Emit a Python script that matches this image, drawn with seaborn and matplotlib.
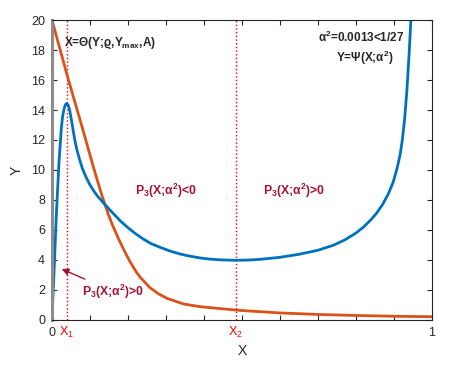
import numpy as np
import pandas as pd
import seaborn as sns
import matplotlib
matplotlib.use('Agg')
import matplotlib.pyplot as plt
import matplotlib.transforms as mtransforms

# blue curve  Y = Psi(X; alpha^2)
psi_x = [0.0, 0.002, 0.005, 0.0114, 0.0184, 0.0246, 0.028, 0.032, 0.035, 0.0386,
         0.042, 0.046, 0.05, 0.055, 0.06, 0.066, 0.072, 0.08, 0.09, 0.1,
         0.11, 0.12, 0.134, 0.15, 0.165, 0.18, 0.2, 0.22, 0.24, 0.26,
         0.284, 0.31, 0.337, 0.36, 0.389, 0.415, 0.442, 0.483, 0.52, 0.55,
         0.6, 0.65, 0.7, 0.74, 0.77, 0.8, 0.82, 0.84, 0.855, 0.87,
         0.885, 0.898, 0.908, 0.916, 0.922, 0.928, 0.934, 0.94, 0.946]
psi_y = [0.0, 1.3, 3.0, 7.0, 10.55, 12.8, 13.6, 14.1, 14.35, 14.44,
         14.35, 14.05, 13.5, 12.75, 12.0, 11.3, 10.75, 10.1, 9.5, 9.0,
         8.6, 8.25, 7.85, 7.4, 7.0, 6.6, 6.15, 5.75, 5.4, 5.1,
         4.85, 4.6, 4.4, 4.27, 4.14, 4.06, 4.01, 3.98, 4.0, 4.05,
         4.18, 4.38, 4.65, 4.98, 5.33, 5.8, 6.2, 6.7, 7.15, 7.7,
         8.4, 9.2, 10.1, 11.0, 12.0, 13.4, 15.3, 17.8, 20.8]

# orange curve  X = Theta(Y; rho, Ymax, A)
theta_x = [0.0, 0.04, 0.08, 0.11, 0.12, 0.13, 0.14, 0.15, 0.16, 0.175,
           0.19, 0.205, 0.22, 0.232, 0.258, 0.28, 0.302, 0.346, 0.389, 0.45,
           0.5, 0.6, 0.7, 0.8, 0.9, 1.0]
theta_y = [20.0, 16.3, 12.8, 10.1, 9.25, 8.42, 7.64, 6.93, 6.28, 5.42,
           4.63, 3.9, 3.27, 2.85, 2.15, 1.75, 1.45, 1.07, 0.89, 0.74,
           0.63, 0.47, 0.37, 0.3, 0.25, 0.22]

x1_pos = 0.0386
x2_pos = 0.483
x_ticks = [0, 0.1, 0.2, 0.3, 0.4, 0.5, 0.6, 0.7, 0.8, 0.9, 1.0]
x_ticklabels = ['0', '', '', '', '', '', '', '', '', '', '1']
y_ticks = [0, 2, 4, 6, 8, 10, 12, 14, 16, 18, 20]

sns.set_theme(style='ticks')
plt.rcParams['font.family'] = ['Liberation Sans', 'DejaVu Sans']
plt.rcParams['mathtext.fontset'] = 'custom'
plt.rcParams['mathtext.rm'] = 'Liberation Sans'
plt.rcParams['mathtext.it'] = 'Liberation Sans:italic'
plt.rcParams['mathtext.bf'] = 'Liberation Sans:bold'
plt.rcParams['mathtext.default'] = 'regular'

blue = '#0072BD'
orange = '#D95319'
wine = '#A2142F'

fig = plt.figure(figsize=(4.53, 3.65), dpi=100)
ax = fig.add_axes([0.1148, 0.1233, 0.8388, 0.8219])

ax.axvline(x1_pos, ymin=0, ymax=1, color='red', ls=':', lw=1)
ax.axvline(x2_pos, ymin=0, ymax=1, color='red', ls=':', lw=1)

sns.lineplot(x=theta_x, y=theta_y, color=orange, lw=2, sort=False, estimator=None, ax=ax)
sns.lineplot(x=psi_x, y=psi_y, color=blue, lw=2, sort=False, estimator=None, ax=ax)

ax.set_xlim(0, 1)
ax.set_ylim(0, 20)
ax.set_xticks(x_ticks)
ax.set_xticklabels(x_ticklabels)
ax.set_yticks(y_ticks)
ax.tick_params(direction='in', top=True, right=True, labelsize=9, length=3.5, width=0.8, pad=5)
for s in ['top', 'right', 'bottom']:
    ax.spines[s].set_linewidth(0.8)
ax.spines['left'].set_color('#8c8c8c')
ax.spines['left'].set_linewidth(2.2)
ax.set_xlabel('X', fontsize=10, labelpad=4)
ax.set_ylabel('Y', fontsize=10, labelpad=5)

trans = mtransforms.blended_transform_factory(ax.transData, ax.transAxes)
ax.text(x1_pos, -0.015, 'X$_1$', color='red', fontsize=9, ha='center', va='top', transform=trans)
ax.text(x2_pos, -0.015, 'X$_2$', color='red', fontsize=9, ha='center', va='top', transform=trans)

ax.text(0.032, 18.45, 'X=Θ(Y;ϱ,Y$_{max}$,A)', fontsize=8.5, fontweight='bold', ha='left', va='center')
ax.text(0.928, 18.85, 'α$^2$=0.0013<1/27', fontsize=8.5, fontweight='bold', ha='right', va='center')
ax.text(0.824, 17.5, 'Y=Ψ(X;α$^2$)', fontsize=8.5, fontweight='bold', ha='center', va='center')
ax.text(0.218, 8.6, 'P$_3$(X;α$^2$)<0', fontsize=8.8, fontweight='bold', color=wine, ha='left', va='center')
ax.text(0.555, 8.6, 'P$_3$(X;α$^2$)>0', fontsize=8.8, fontweight='bold', color=wine, ha='left', va='center')
ax.annotate('P$_3$(X;α$^2$)>0', xy=(0.0255, 3.4), xytext=(0.079, 1.9),
            fontsize=8.8, fontweight='bold', color=wine, ha='left', va='center',
            arrowprops=dict(arrowstyle='-|>', color=wine, lw=1, mutation_scale=10, shrinkA=0, shrinkB=0))

fig.savefig('out.png', dpi=100)
